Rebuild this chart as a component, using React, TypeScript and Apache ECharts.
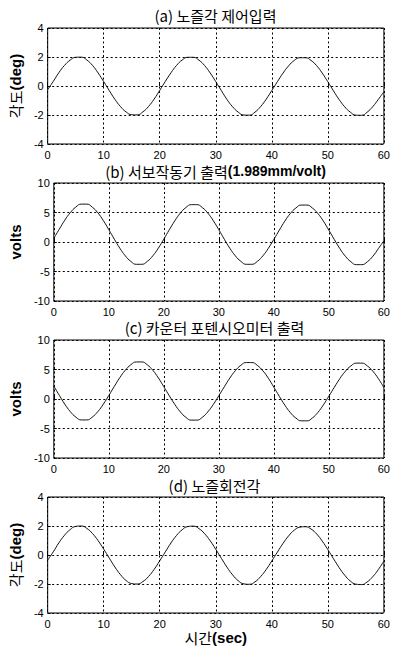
import React, { useEffect, useRef } from "react";
import * as echarts from "echarts";

const TIME = [
  0, 1, 2, 3, 4, 5, 6, 7, 8, 9, 10, 11, 12, 13, 14, 15, 16, 17, 18, 19,
  20, 21, 22, 23, 24, 25, 26, 27, 28, 29, 30, 31, 32, 33, 34, 35, 36, 37, 38, 39,
  40, 41, 42, 43, 44, 45, 46, 47, 48, 49, 50, 51, 52, 53, 54, 55, 56, 57, 58, 59,
  60,
];

const NOZZLE_INPUT = [
  -0.25, 0.32, 0.92, 1.42, 1.78, 1.98, 1.99, 1.79, 1.42, 0.9, 0.3, -0.32, -0.92, -1.42, -1.79, -1.98, -1.99, -1.78, -1.41, -0.9,
  -0.3, 0.32, 0.91, 1.42, 1.79, 1.98, 1.98, 1.78, 1.41, 0.9, 0.3, -0.32, -0.93, -1.43, -1.8, -2.0, -2.01, -1.8, -1.42, -0.91,
  -0.31, 0.3, 0.89, 1.39, 1.76, 1.95, 1.95, 1.76, 1.4, 0.89, 0.29, -0.33, -0.93, -1.43, -1.8, -2.01, -2.02, -1.81, -1.43, -0.93,
  -0.4,
];

const SERVO_OUTPUT = [
  0.6, 2.18, 3.7, 4.98, 5.92, 6.42, 6.42, 5.9, 4.95, 3.64, 2.1, 0.48, -1.05, -2.34, -3.28, -3.78, -3.78, -3.28, -2.34, -1.05,
  0.48, 2.08, 3.6, 4.9, 5.83, 6.33, 6.33, 5.83, 4.9, 3.6, 2.08, 0.46, -1.06, -2.35, -3.28, -3.78, -3.78, -3.28, -2.35, -1.06,
  0.44, 2.02, 3.54, 4.83, 5.76, 6.26, 6.26, 5.76, 4.83, 3.54, 2.0, 0.4, -1.12, -2.41, -3.34, -3.84, -3.84, -3.34, -2.41, -1.12,
  0.2,
];

const POT_OUTPUT = [
  2.2, 0.62, -0.88, -2.14, -3.06, -3.55, -3.55, -3.06, -2.14, -0.88, 0.6, 2.14, 3.62, 4.88, 5.8, 6.28, 6.28, 5.79, 4.86, 3.58,
  2.08, 0.55, -0.92, -2.18, -3.1, -3.58, -3.58, -3.1, -2.17, -0.92, 0.56, 2.08, 3.55, 4.8, 5.71, 6.18, 6.18, 5.7, 4.78, 3.52,
  2.0, 0.45, -1.04, -2.3, -3.22, -3.7, -3.7, -3.22, -2.28, -1.0, 0.48, 2.0, 3.46, 4.7, 5.6, 6.08, 6.08, 5.6, 4.7, 3.45,
  1.95,
];

const NOZZLE_ROTATION = [
  -0.35, 0.22, 0.84, 1.36, 1.75, 1.97, 2.0, 1.83, 1.48, 0.99, 0.4, -0.22, -0.83, -1.36, -1.76, -1.97, -2.0, -1.83, -1.48, -0.99,
  -0.4, 0.22, 0.83, 1.35, 1.74, 1.96, 1.99, 1.82, 1.47, 0.98, 0.39, -0.23, -0.84, -1.37, -1.77, -1.99, -2.02, -1.85, -1.49, -1.0,
  -0.41, 0.2, 0.8, 1.32, 1.71, 1.92, 1.95, 1.79, 1.45, 0.96, 0.37, -0.25, -0.86, -1.39, -1.79, -2.01, -2.04, -1.86, -1.5, -1.01,
  -0.42,
];

const TITLES = [
  "{k|(a) 노즐각 제어입력}",
  "{k|(b) 서보작동기 출력}{b|(1.989mm/volt)}",
  "{k|(c) 카운터 포텐시오미터 출력}",
  "{k|(d) 노즐회전각}",
];
const Y_NAMES = ["{k|각도}{b|(deg)}", "{b|volts}", "{b|volts}", "{k|각도}{b|(deg)}"];
const X_NAME = "{k|시간}{b|(sec)}";
const Y_RANGES = [
  [-4, 4, 2],
  [-10, 10, 5],
  [-10, 10, 5],
  [-4, 4, 2],
];
const X_RANGE = [0, 60, 10];

const FONT = "'Liberation Sans', Arial, 'Noto Sans CJK KR', sans-serif";
const KFONT = "'Noto Sans CJK KR', 'Liberation Sans', sans-serif";

export default function App() {
  const ref = useRef<HTMLDivElement>(null);
  useEffect(() => {
    document.body.style.margin = "0";
    if (!ref.current) return;
    const chart = echarts.init(ref.current, null, { renderer: "svg" });
    const grids = [
      { left: 45, right: 7, top: 28, height: 116 },
      { left: 45, right: 7, top: 183, height: 118 },
      { left: 44, right: 8, top: 340, height: 118 },
      { left: 44, right: 8, top: 497, height: 116 },
    ];
    const titleY = [15, 171, 327, 485];
    const nameGaps = [16, 23, 23, 16];
    const seriesData = [NOZZLE_INPUT, SERVO_OUTPUT, POT_OUTPUT, NOZZLE_ROTATION];
    const nameRich = {
      k: { fontSize: 15, fontFamily: KFONT, color: "#000", fontWeight: "normal" },
      b: { fontWeight: "bold", fontSize: 15, fontFamily: FONT, color: "#000" },
    };
    const option: any = {
      animation: false,
      backgroundColor: "#fff",
      grid: grids.map((g) => ({
        ...g,
        show: true,
        borderColor: "#000",
        borderWidth: 1,
        backgroundColor: "transparent",
        containLabel: false,
      })),
      xAxis: grids.map((_, i) => ({
        type: "value",
        gridIndex: i,
        min: X_RANGE[0],
        max: X_RANGE[1],
        interval: X_RANGE[2],
        axisLine: { show: false },
        axisTick: { show: true, inside: true, length: 3, lineStyle: { color: "#000" } },
        axisLabel: { color: "#000", fontSize: 11, fontFamily: FONT, margin: 5 },
        splitLine: { show: true, lineStyle: { color: "#000", type: [2, 2.5], width: 1 } },
        ...(i === 3
          ? {
              name: X_NAME,
              nameLocation: "middle",
              nameGap: 13,
              nameTextStyle: {
                color: "#000",
                fontSize: 15,
                fontFamily: KFONT,
                verticalAlign: "top",
                rich: nameRich,
              },
            }
          : {}),
      })),
      yAxis: grids.map((_, i) => ({
        type: "value",
        gridIndex: i,
        min: Y_RANGES[i][0],
        max: Y_RANGES[i][1],
        interval: Y_RANGES[i][2],
        axisLine: { show: false },
        axisTick: { show: true, inside: true, length: 3, lineStyle: { color: "#000" } },
        axisLabel: { color: "#000", fontSize: 11, fontFamily: FONT, margin: 4 },
        splitLine: { show: true, lineStyle: { color: "#000", type: [2, 2.5], width: 1 } },
        name: Y_NAMES[i],
        nameLocation: "middle",
        nameRotate: 90,
        nameGap: nameGaps[i],
        nameTextStyle: {
          color: "#000",
          fontSize: 15,
          fontFamily: KFONT,
          rich: nameRich,
        },
      })),
      series: seriesData.map((vals, i) => ({
        type: "line",
        xAxisIndex: i,
        yAxisIndex: i,
        data: TIME.map((t, k) => [t, vals[k]]),
        smooth: true,
        showSymbol: false,
        symbol: "none",
        lineStyle: { color: "#111", width: 1 },
      })),
      graphic: TITLES.map((t, i) => ({
        type: "text",
        x: grids[i].left + (393 - grids[i].left - grids[i].right) / 2,
        y: titleY[i],
        style: {
          text: t,
          fill: "#000",
          fontSize: 15,
          fontFamily: KFONT,
          textAlign: "center",
          textVerticalAlign: "middle",
          rich: {
            k: { fontSize: 15, fontFamily: KFONT, fill: "#000" },
            b: { fontWeight: "bold", fontSize: 14, fontFamily: FONT, fill: "#000" },
          },
        },
      })),
    };
    chart.setOption(option);
    return () => chart.dispose();
  }, []);
  return (
    <div
      ref={ref}
      style={{ position: "absolute", left: 0, top: 0, width: 393, height: 652 }}
    />
  );
}
